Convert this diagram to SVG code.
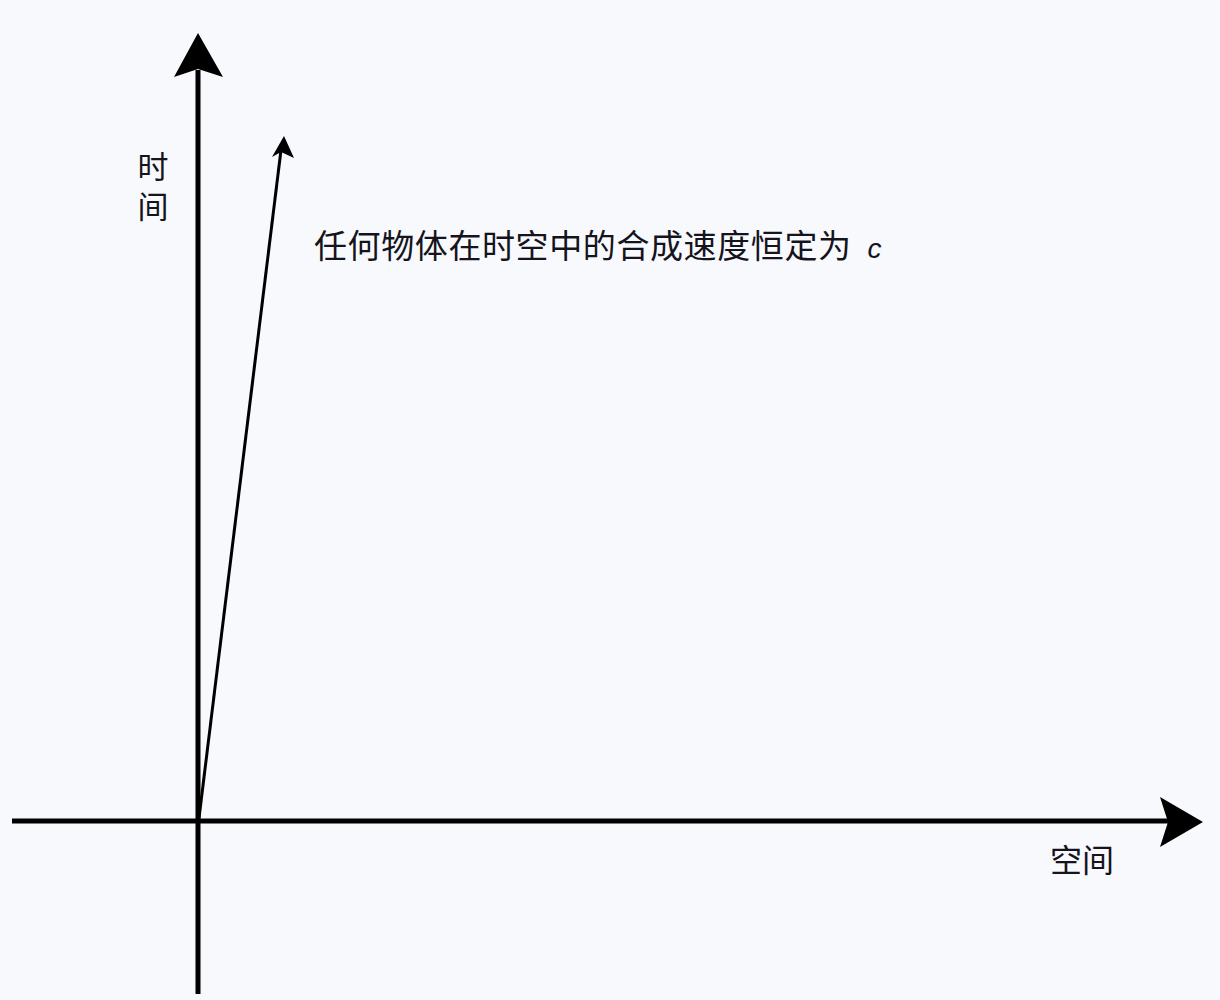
<svg xmlns="http://www.w3.org/2000/svg" width="1220" height="1000" viewBox="0 0 1220 1000">
<style>
.t{font-family:"Noto Sans CJK SC","Noto Sans",sans-serif;fill:#15141c;font-size:32px}
.ax{stroke:#000;stroke-width:5;fill:none}
.v{stroke:#000;stroke-width:3;fill:none}
</style>
<rect width="1220" height="1000" fill="#f8f9fd"/>
<g id="connectors">
<line class="ax" x1="198" y1="994" x2="198" y2="70"/>
<polygon points="198,33 223,77 198,69 174,77" fill="#000"/>
<line class="ax" x1="12" y1="821" x2="1170" y2="821"/>
<polygon points="1203,822 1160,847 1168,822 1160,797" fill="#000"/>
<line class="v" x1="199" y1="818" x2="281" y2="150"/>
<polygon points="284,136 294,158 281,152 272,157" fill="#000"/>
</g>
<g id="time-label">
<text class="t" x="153" y="151" style="font-size:31px;writing-mode:vertical-rl;letter-spacing:9px">时间</text>
</g>
<g id="space-label">
<text class="t" x="1050" y="872">空间</text>
</g>
<g id="note">
<text class="t" x="314" y="258" style="font-size:33px;letter-spacing:0.6px">任何物体在时空中的合成速度恒定为<tspan dx="16" font-family="Liberation Sans, sans-serif" font-style="italic" font-size="28">c</tspan></text>
</g>
</svg>
